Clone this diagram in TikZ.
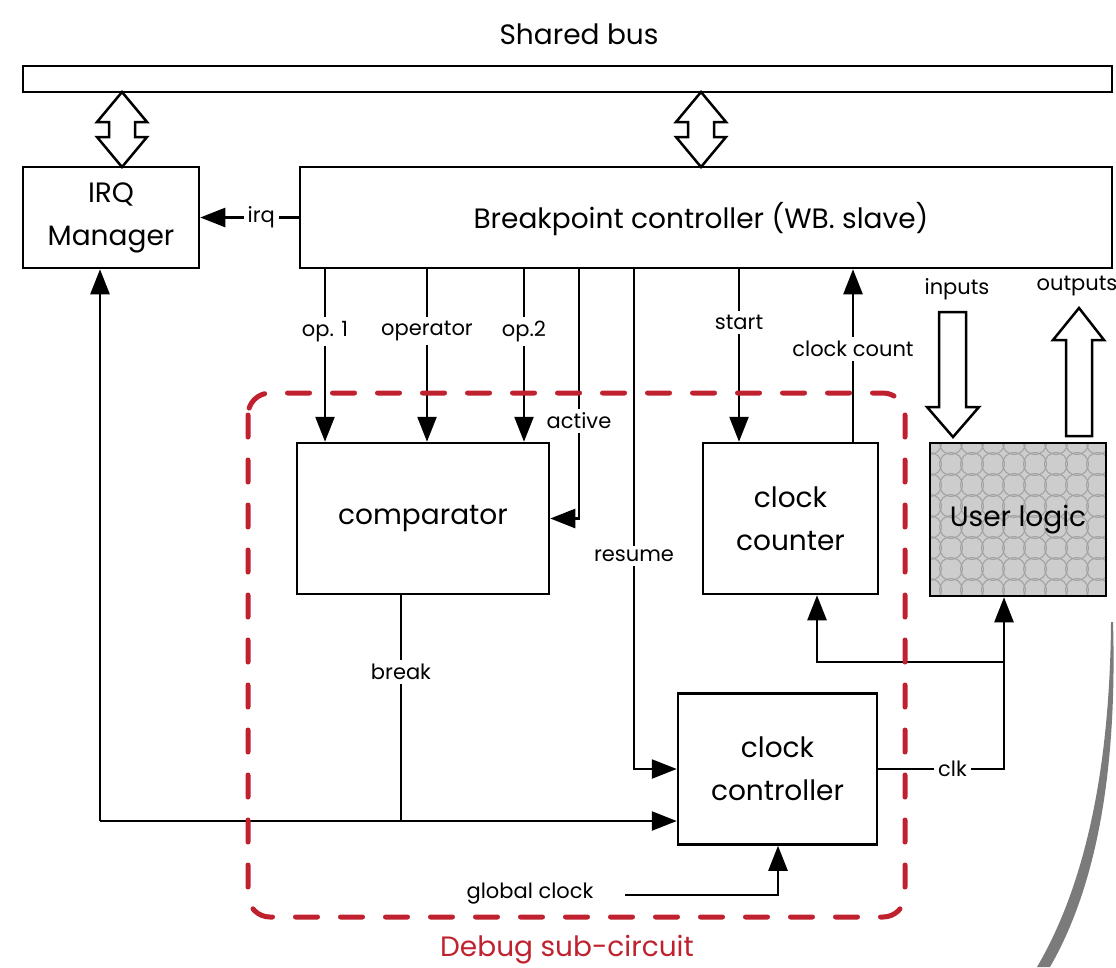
\documentclass[tikz,border=0pt]{standalone}
\usepackage{fontspec}
\setmainfont{Poppins}
\usetikzlibrary{arrows.meta,calc}
\definecolor{dbgred}{HTML}{C0212E}
\definecolor{brush}{HTML}{7B7B7B}
\definecolor{hatchbg}{HTML}{CDCDCD}
\definecolor{hatchln}{HTML}{A2A2A2}
\tikzset{
  big/.style={font=\fontsize{28}{43}\selectfont},
  small/.style={font=\fontsize{21}{25}\selectfont},
  box/.style={draw, line width=2.5pt, inner sep=0pt, align=center, big},
  wire/.style={line width=2.5pt},
  arr/.style={wire, -{Triangle[length=25pt,width=19pt]}},
  lbl/.style={fill=white, inner sep=4pt, small},
  hollow/.style={draw, line width=2.5pt, fill=white, line join=miter},
}
\begin{document}
\begin{tikzpicture}[x=1pt,y=-1pt]
\useasboundingbox (0,0) rectangle (1116,967);

% title and bus
\node[big] (title) at (579,34) {Shared bus};
\node[draw, line width=2.5pt, minimum width=1089pt, minimum height=26pt, inner sep=0pt] (bus) at (567.5,79) {};

% blocks
\node[box, minimum width=176pt, minimum height=101pt] (irq) at (111,217.5) {IRQ\\Manager};
\node[box, minimum width=812pt, minimum height=101pt] (bpc) at (706,217.5) {};
\node[big] (bpct) at (701,219) {Breakpoint controller (WB. slave)};
\node[box, minimum width=252pt, minimum height=151pt] (cmp) at (423,518.5) {comparator};
\node[box, minimum width=175pt, minimum height=151pt] (ccnt) at (790.5,518.5) {clock\\counter};
\node[box, minimum width=199pt, minimum height=151pt] (cctl) at (777.5,769) {clock\\controller};

% user logic with its hatched fill
\begin{scope}
  \clip (930,443) rectangle (1106,596);
  \fill[hatchbg] (930,443) rectangle (1106,596);
  \foreach \i in {0,...,9} \foreach \j in {0,...,8}
    \draw[hatchln, line width=1.1pt] (930+\i*21,443+\j*21) circle (11.5);
\end{scope}
\node[box, minimum width=176pt, minimum height=153pt] (user) at (1018,519.5) {User logic};

% bus interfaces
\foreach \cx in {122,701}
  \draw[hollow] (\cx,92) -- ++(25,30) -- ++(-12,0) -- ++(0,15) -- ++(12,0)
    -- (\cx,167) -- ++(-25,-30) -- ++(12,0) -- ++(0,-15) -- ++(-12,0) -- cycle;

% external inputs / outputs
\node[small] (inl) at (957,289) {inputs};
\node[small] (outl) at (1077,286) {outputs};
\draw[hollow] (939,312) -- (966,312) -- (966,407) -- (979,407) -- (953,437)
  -- (927,407) -- (939,407) -- cycle;
\draw[hollow] (1066,436) -- (1092,436) -- (1092,340) -- (1104,340) -- (1079,308)
  -- (1053,340) -- (1066,340) -- cycle;

% column positions
\coordinate (xop1) at (325,0);
\coordinate (xopr) at (427,0);
\coordinate (xop2) at (524,0);
\coordinate (xact) at (579,0);
\coordinate (xres) at (634,0);
\coordinate (xsta) at (739,0);
\coordinate (xcnt) at (853,0);
\coordinate (xbrk) at (401,0);
\coordinate (xgc) at (778,0);
\coordinate (xul) at (1004,0);
\coordinate (xcc) at (817,0);
\coordinate (jleft) at (100,821);
\coordinate (jbrk) at (401,821);
\coordinate (jclk) at (1004,662);
\coordinate (gstart) at (625,895);

% controller to comparator / counter
\draw[arr] (bpc.west) -- node[lbl, pos=0.38] {irq} (irq.east);
\draw[arr] (bpc.south -| xop1) -- node[lbl, pos=0.36] {op. 1} (cmp.north -| xop1);
\draw[arr] (bpc.south -| xopr) -- node[lbl, pos=0.36] {operator} (cmp.north -| xopr);
\draw[arr] (bpc.south -| xop2) -- node[lbl, pos=0.36] {op.2} (cmp.north -| xop2);
\draw[arr] (bpc.south -| xact) -- node[lbl, pos=0.608] {active} (xact |- cmp.east) -- (cmp.east);
\draw[arr] (bpc.south -| xres) -- node[lbl, pos=0.574] {resume} (xres |- cctl.west) -- (cctl.west);
\draw[arr] (bpc.south -| xsta) -- node[lbl, pos=0.31] {start} (ccnt.north -| xsta);
\draw[arr] (ccnt.north -| xcnt) -- node[lbl, pos=0.537] {clock count} (bpc.south -| xcnt);

% break signal
\draw[wire] (cmp.south -| xbrk) -- node[lbl, pos=0.34] {break} (jbrk);
\draw[arr] (jleft) -- (cctl.west |- jleft);
\draw[arr] (jleft) -- (irq.south -| jleft);

% clock distribution
\draw[wire] (cctl.east) -- node[lbl, pos=0.59] {clk} (xul |- cctl.east) -- (jclk);
\draw[arr] (jclk) -- (user.south -| xul);
\draw[arr] (jclk) -- (xcc |- jclk) -- (ccnt.south -| xcc);
\node[small] (gclk) at (530,894) {global clock};
\draw[arr] (gstart) -- (xgc |- gstart) -- (cctl.south -| xgc);

% debug region
\draw[dbgred, line width=5pt, line cap=round, rounded corners=22pt,
      dash pattern=on 22pt off 23pt] (248,393) rectangle (905,917);
\node[big, text=dbgred] (dbg) at (567,950) {Debug sub-circuit};

% brush stroke at the right edge
\fill[brush] (1113,622) .. controls (1117,760) and (1100,880) .. (1050,967)
  -- (1037,967) .. controls (1088,880) and (1110,760) .. (1111,622) -- cycle;
\end{tikzpicture}
\end{document}
